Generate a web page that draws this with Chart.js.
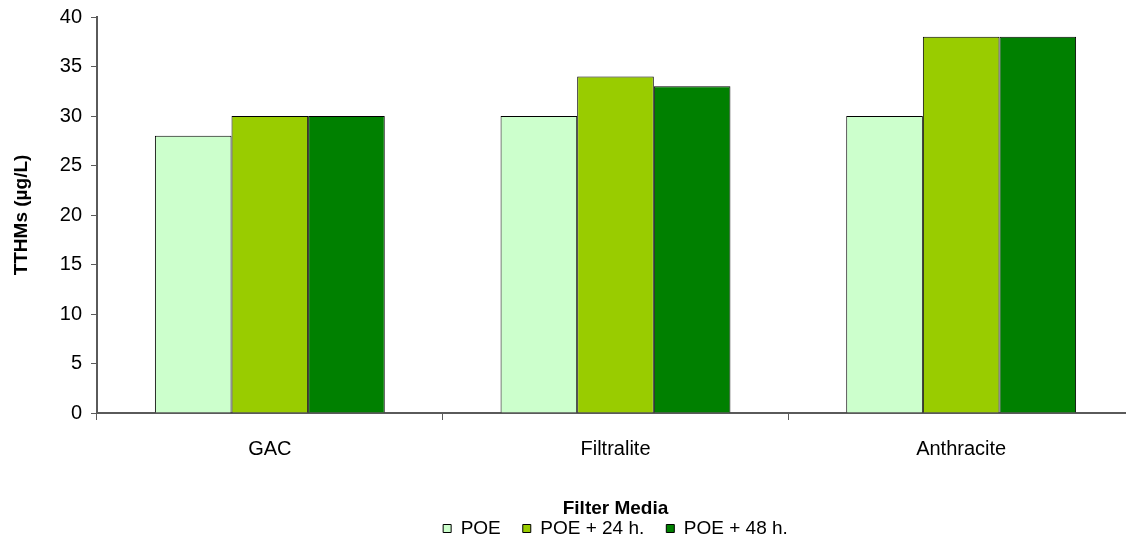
<!DOCTYPE html>
<html>
<head>
<meta charset="utf-8">
<script src="https://cdn.jsdelivr.net/npm/chart.js@4"></script>
<style>
  html, body { margin: 0; padding: 0; background: #fff; overflow: hidden; }
  #wrap { width: 1140px; height: 552px; margin-top: -4px; }
</style>
</head>
<body>
<div id="wrap"><canvas id="chart"></canvas></div>
<script>
const categories = ["GAC", "Filtralite", "Anthracite"];
const seriesNames = ["POE", "POE + 24 h.", "POE + 48 h."];
// values per series, one per category
const poe = [28, 30, 30];
const poe24 = [30, 34, 38];
const poe48 = [30, 33, 38];
const seriesColors = ["#CCFFCC", "#99CC00", "#008000"];

const axisColor = "#5a5a5a";
const font = "Arial, 'Liberation Sans', sans-serif";

const ctx = document.getElementById("chart").getContext("2d");

new Chart(ctx, {
  type: "bar",
  data: {
    labels: categories,
    datasets: [poe, poe24, poe48].map((values, i) => ({
      label: seriesNames[i],
      data: values,
      backgroundColor: seriesColors[i],
      borderColor: "#000000",
      borderWidth: 1,
      categoryPercentage: 0.665,
      barPercentage: 1.0,
    })),
  },
  options: {
    responsive: true,
    maintainAspectRatio: false,
    animation: false,
    layout: { padding: { top: 16, left: 0, right: 6, bottom: 0 } },
    plugins: {
      tooltip: { enabled: false },
      legend: {
        position: "bottom",
        fullSize: false,
        labels: {
          color: "#000",
          font: { family: font, size: 19 },
          boxWidth: 8,
          boxHeight: 8,
          padding: 22,
        },
      },
    },
    scales: {
      x: {
        offset: true,
        border: { color: axisColor, width: 2 },
        grid: {
          offset: true,
          drawOnChartArea: false,
          drawTicks: true,
          tickLength: 7,
          color: axisColor,
          lineWidth: 1,
        },
        ticks: {
          color: "#000",
          font: { family: font, size: 20 },
          padding: 17,
        },
        title: {
          display: true,
          text: "Filter Media",
          color: "#000",
          font: { family: font, size: 19, weight: "bold" },
          padding: { top: 0, bottom: -23 },
        },
        afterFit: (scale) => { scale.height = 84; },
      },
      y: {
        min: 0,
        max: 40,
        border: { color: axisColor, width: 2 },
        grid: {
          drawOnChartArea: false,
          drawTicks: true,
          tickLength: 6,
          color: axisColor,
        },
        ticks: {
          stepSize: 5,
          color: "#000",
          font: { family: font, size: 20 },
          padding: 9,
        },
        title: {
          display: true,
          text: "TTHMs (µg/L)",
          color: "#000",
          font: { family: font, size: 19, weight: "bold" },
          padding: { top: 10, bottom: 0 },
        },
        afterFit: (scale) => { scale.width = 97; },
      },
    },
  },
});
</script>
</body>
</html>
